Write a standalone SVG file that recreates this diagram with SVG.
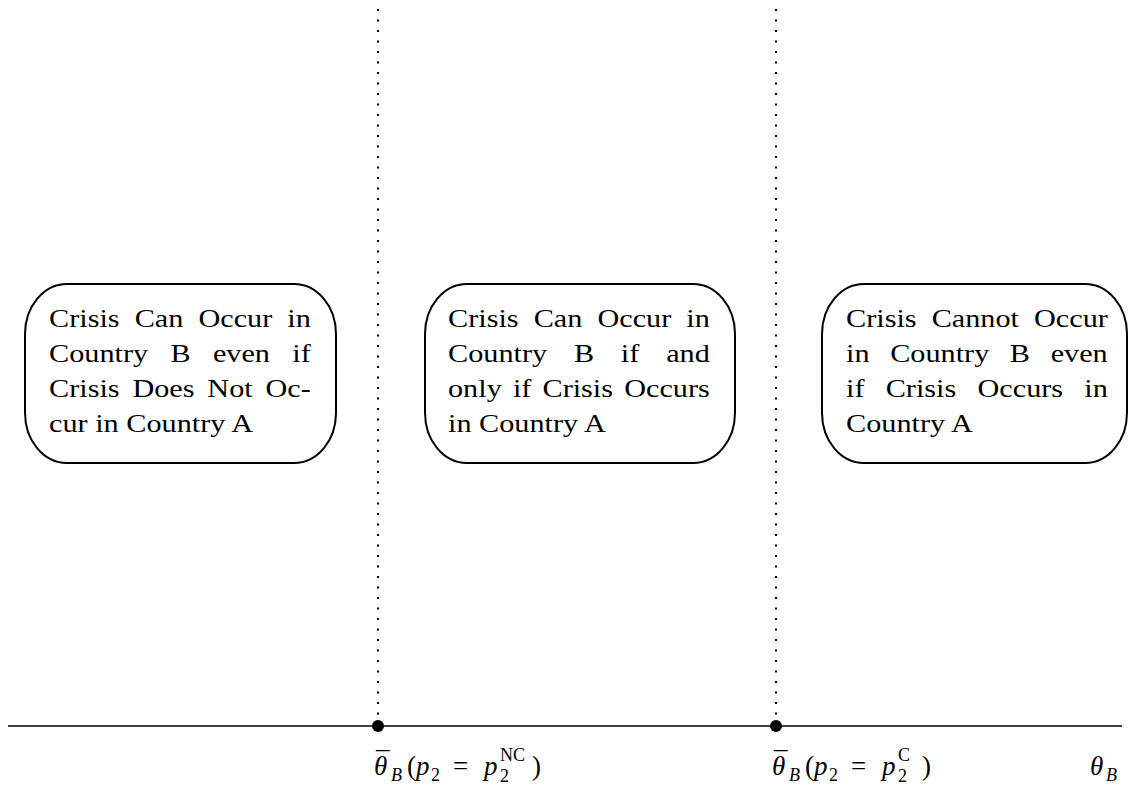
<svg xmlns="http://www.w3.org/2000/svg" width="1128" height="795" viewBox="0 0 1128 795">
<style>
.box{fill:#fff;stroke:#000;stroke-width:2}
.t{font-family:"Liberation Serif",serif;font-size:25px;fill:#000}
.m{font-family:"Liberation Serif",serif;font-size:27px;fill:#000}
.i{font-style:italic}
.s{font-size:18px}
.dot{stroke:#000;stroke-width:2;stroke-dasharray:2 8.5;fill:none}
</style>
<rect width="1128" height="795" fill="#fff"/>
<g id="connectors">
<line class="dot" x1="378" y1="9" x2="378" y2="720"/>
<line class="dot" x1="776" y1="9" x2="776" y2="720"/>
<line x1="8" y1="726" x2="1122" y2="726" stroke="#000" stroke-width="1.6"/>
<circle cx="378" cy="726" r="6"/>
<circle cx="776" cy="726" r="6"/>
</g>
<g id="box1">
<rect class="box" x="25" y="284" width="311" height="179" rx="42" ry="50"/>
<text class="t" transform="translate(49 327) scale(1.21 1)" style="word-spacing:6.2px">Crisis Can Occur in</text>
<text class="t" transform="translate(49 362) scale(1.21 1)" style="word-spacing:12.2px">Country B even if</text>
<text class="t" transform="translate(49 397) scale(1.21 1)" style="word-spacing:4.35px">Crisis Does Not Oc-</text>
<text class="t" transform="translate(49 432) scale(1.21 1)">cur in Country A</text>
</g>
<g id="box2">
<rect class="box" x="425" y="284" width="310" height="179" rx="42" ry="50"/>
<text class="t" transform="translate(448 327) scale(1.21 1)" style="word-spacing:6.2px">Crisis Can Occur in</text>
<text class="t" transform="translate(448 362) scale(1.21 1)" style="word-spacing:15.9px">Country B if and</text>
<text class="t" transform="translate(448 397) scale(1.21 1)" style="word-spacing:2.95px">only if Crisis Occurs</text>
<text class="t" transform="translate(448 432) scale(1.21 1)">in Country A</text>
</g>
<g id="box3">
<rect class="box" x="822" y="284" width="305" height="179" rx="42" ry="50"/>
<text class="t" transform="translate(846 327) scale(1.21 1)" style="word-spacing:6.2px">Crisis Cannot Occur</text>
<text class="t" transform="translate(846 362) scale(1.21 1)" style="word-spacing:10.8px">in Country B even</text>
<text class="t" transform="translate(846 397) scale(1.21 1)" style="word-spacing:11.3px">if Crisis Occurs in</text>
<text class="t" transform="translate(846 432) scale(1.21 1)">Country A</text>
</g>
<g id="label1">
<text class="m"><tspan x="376" y="771">¯</tspan><tspan class="i" x="374" y="775">θ</tspan><tspan class="i s" x="391" y="781">B</tspan><tspan x="407" y="775">(</tspan><tspan class="i" x="416" y="775">p</tspan><tspan class="s" x="431" y="781">2</tspan><tspan x="453" y="775">=</tspan><tspan class="i" x="484" y="775">p</tspan><tspan class="s" x="500" y="761">NC</tspan><tspan class="s" x="500" y="782">2</tspan><tspan x="532" y="775">)</tspan></text>
</g>
<g id="label2">
<text class="m"><tspan x="774" y="771">¯</tspan><tspan class="i" x="772" y="775">θ</tspan><tspan class="i s" x="789" y="781">B</tspan><tspan x="805" y="775">(</tspan><tspan class="i" x="814" y="775">p</tspan><tspan class="s" x="829" y="781">2</tspan><tspan x="851" y="775">=</tspan><tspan class="i" x="882" y="775">p</tspan><tspan class="s" x="898" y="761">C</tspan><tspan class="s" x="898" y="782">2</tspan><tspan x="922" y="775">)</tspan></text>
</g>
<g id="label3">
<text class="m"><tspan class="i" x="1090" y="775">θ</tspan><tspan class="i s" x="1106" y="781">B</tspan></text>
</g>
</svg>
